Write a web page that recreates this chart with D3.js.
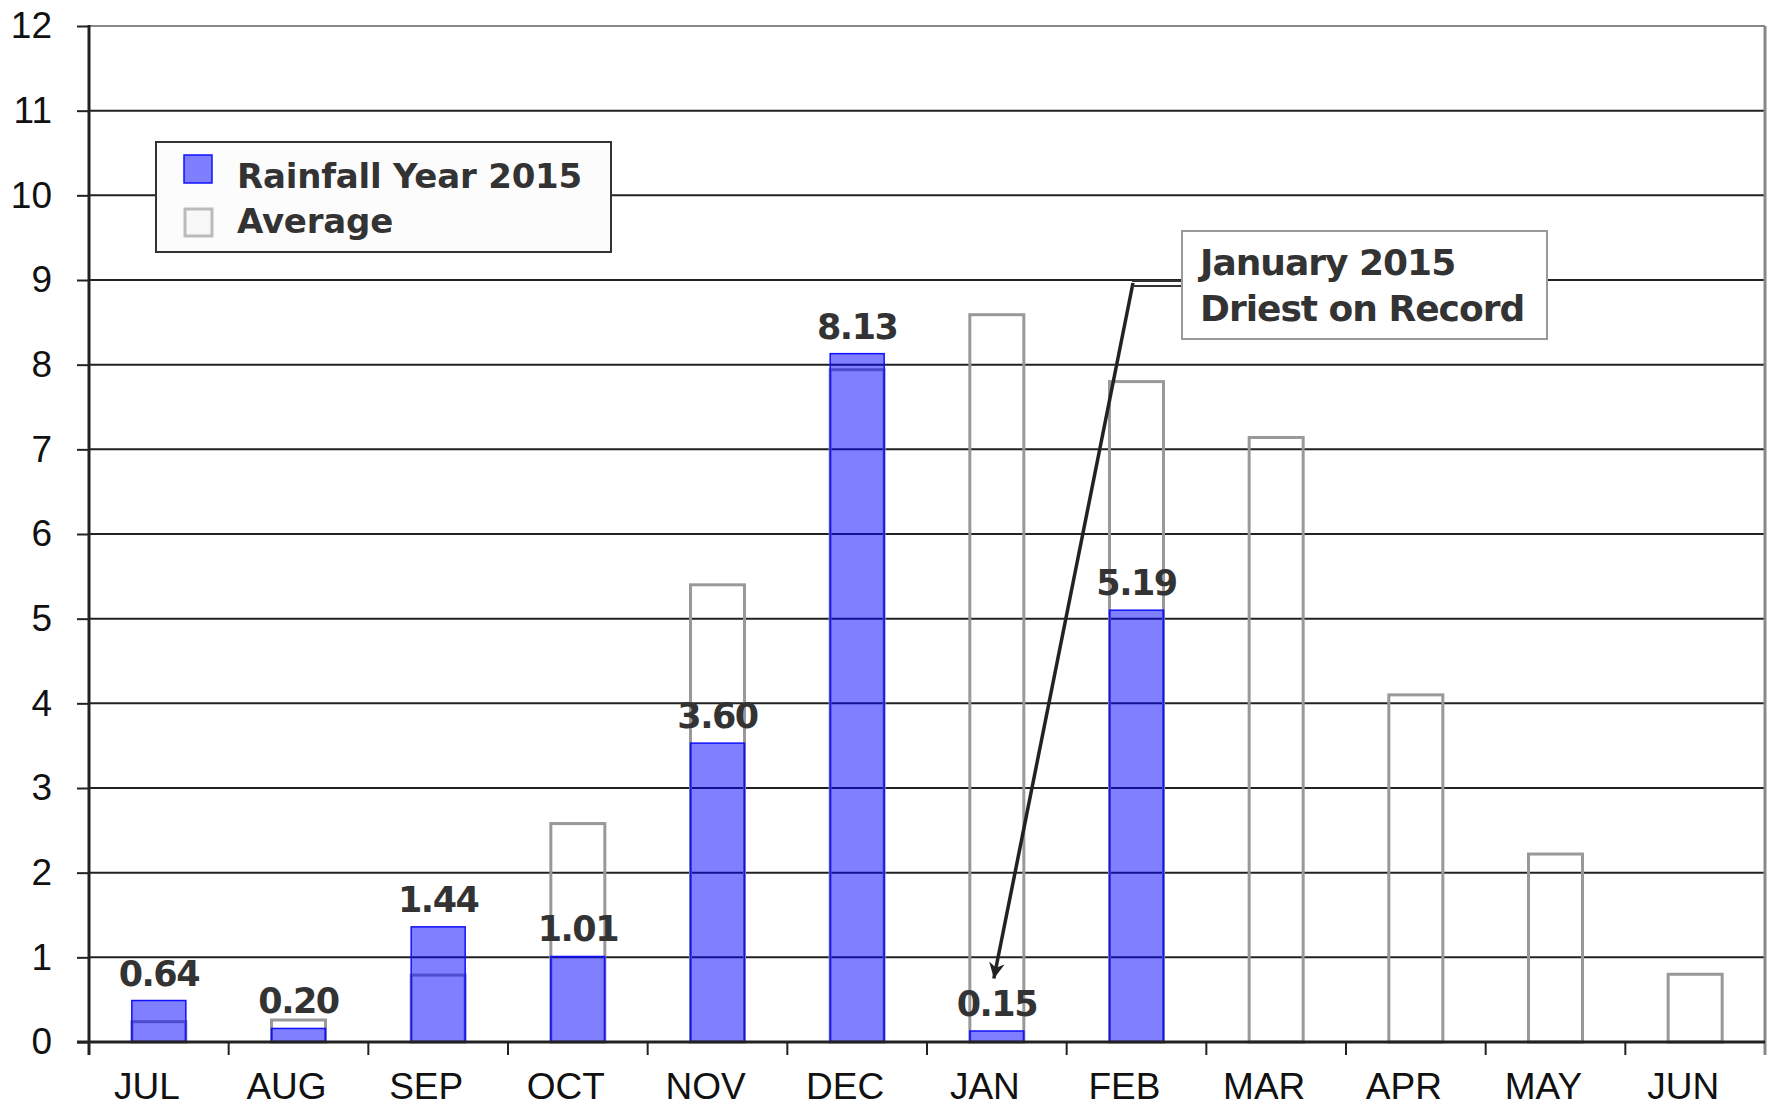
<html>
<meta charset='utf-8'>
<head>
    <script src="https://d3js.org/d3.v7.min.js"></script>
    <style>
      body { margin: 0; background: #fff; }
    </style>
</head>
<body>
<div id='viz'></div>
<script>
    // values
    let months = ['JUL', 'AUG', 'SEP', 'OCT', 'NOV', 'DEC', 'JAN', 'FEB', 'MAR', 'APR', 'MAY', 'JUN'];
    let rainfall = [0.49, 0.16, 1.36, 1.01, 3.53, 8.13, 0.13, 5.10];
    let rainLabels = ['0.64', '0.20', '1.44', '1.01', '3.60', '8.13', '0.15', '5.19'];
    let average = [0.24, 0.26, 0.79, 2.58, 5.40, 7.94, 8.59, 7.80, 7.14, 4.10, 2.22, 0.80];
    let yTicks = [0, 1, 2, 3, 4, 5, 6, 7, 8, 9, 10, 11, 12];
    let legendItems = ['Rainfall Year 2015', 'Average'];
    let noteLines = ['January 2015', 'Driest on Record'];

    function createViz() {
        let svg = d3.select('#viz').append('svg')
                    .attr('width', 1771)
                    .attr('height', 1105);

        let left = 89, right = 1765, top = 26, bottom = 1042;
        let x = d3.scaleBand().domain(months).range([left, right]);
        let y = d3.scaleLinear().domain([0, 12]).range([bottom, top]);
        let barW = 54;
        let boldFont = "'DejaVu Sans', sans-serif";
        let plainFont = "'Liberation Sans', Arial, sans-serif";

        // gridlines
        svg.append('g').selectAll('line')
            .data(yTicks.filter(d => d > 0))
            .join('line')
            .attr('x1', left).attr('x2', right)
            .attr('y1', d => y(d)).attr('y2', d => y(d))
            .attr('stroke', d => d == 12 ? '#888' : '#222')
            .attr('stroke-width', 2);

        // right frame
        svg.append('line')
            .attr('x1', right).attr('x2', right)
            .attr('y1', top).attr('y2', bottom + 13)
            .attr('stroke', '#888').attr('stroke-width', 3);

        // average bars (outline only)
        svg.append('g').selectAll('rect')
            .data(average)
            .join('rect')
            .attr('x', (d, i) => x(months[i]) + x.bandwidth() / 2 - barW / 2)
            .attr('y', d => y(d))
            .attr('width', barW)
            .attr('height', d => bottom - y(d))
            .attr('fill', 'none')
            .attr('stroke', '#999')
            .attr('stroke-width', 3);

        // rainfall bars
        svg.append('g').selectAll('rect')
            .data(rainfall)
            .join('rect')
            .attr('x', (d, i) => x(months[i]) + x.bandwidth() / 2 - barW / 2)
            .attr('y', d => y(d))
            .attr('width', barW)
            .attr('height', d => bottom - y(d))
            .attr('fill', 'rgba(0,0,255,0.5)')
            .attr('stroke', '#1010ff')
            .attr('stroke-width', 1.5);

        // y axis
        let yAxis = svg.append('g')
            .attr('transform', `translate(${left},0)`)
            .call(d3.axisLeft(y).tickValues(yTicks).tickSize(12).tickSizeOuter(0).tickPadding(25));
        yAxis.select('.domain').remove();
        yAxis.selectAll('.tick line').attr('stroke', '#222').attr('stroke-width', 2);
        yAxis.selectAll('.tick text')
            .attr('font-family', plainFont)
            .attr('font-size', 37)
            .attr('fill', '#111');
        svg.append('line')
            .attr('x1', left).attr('x2', left)
            .attr('y1', top - 1).attr('y2', bottom + 13)
            .attr('stroke', '#222').attr('stroke-width', 3);

        // x axis
        svg.append('line')
            .attr('x1', left - 12).attr('x2', right)
            .attr('y1', bottom).attr('y2', bottom)
            .attr('stroke', '#222').attr('stroke-width', 3);
        svg.append('g').selectAll('line')
            .data(months.slice(1))
            .join('line')
            .attr('x1', d => x(d)).attr('x2', d => x(d))
            .attr('y1', bottom).attr('y2', bottom + 13)
            .attr('stroke', '#222').attr('stroke-width', 2);
        let xAxis = svg.append('g')
            .attr('transform', `translate(-12,${bottom})`)
            .call(d3.axisBottom(x).tickSize(0).tickPadding(0));
        xAxis.select('.domain').remove();
        xAxis.selectAll('.tick text')
            .attr('y', 57)
            .attr('dy', 0)
            .attr('font-family', plainFont)
            .attr('font-size', 37)
            .attr('fill', '#111');

        // value labels
        svg.append('g').selectAll('text')
            .data(rainfall)
            .join('text')
            .attr('x', (d, i) => x(months[i]) + x.bandwidth() / 2)
            .attr('y', d => y(d) - 15)
            .attr('text-anchor', 'middle')
            .attr('font-family', boldFont)
            .attr('font-weight', 'bold')
            .attr('font-size', 35)
            .attr('letter-spacing', -1.5)
            .attr('fill', '#333')
            .text((d, i) => rainLabels[i]);

        // legend
        let legend = svg.append('g');
        legend.append('rect')
            .attr('x', 156).attr('y', 142)
            .attr('width', 455).attr('height', 110)
            .attr('fill', '#fcfcfc')
            .attr('stroke', '#333').attr('stroke-width', 2);
        legend.append('rect')
            .attr('x', 184).attr('y', 155).attr('width', 28).attr('height', 28)
            .attr('fill', 'rgba(0,0,255,0.5)').attr('stroke', '#1010ff').attr('stroke-width', 1.5);
        legend.append('rect')
            .attr('x', 185).attr('y', 209).attr('width', 27).attr('height', 27)
            .attr('fill', '#f8f8f8').attr('stroke', '#bbb').attr('stroke-width', 3);
        legend.selectAll('text')
            .data(legendItems)
            .join('text')
            .attr('x', 237)
            .attr('y', (d, i) => 188 + i * 45)
            .attr('font-family', boldFont)
            .attr('font-weight', 'bold')
            .attr('font-size', 34)
            .attr('letter-spacing', -0.2)
            .attr('fill', '#333')
            .text(d => d);

        // annotation
        svg.append('defs').append('marker')
            .attr('id', 'arrow')
            .attr('viewBox', '0 0 10 10')
            .attr('refX', 10).attr('refY', 5)
            .attr('markerWidth', 7).attr('markerHeight', 4.5)
            .attr('markerUnits', 'strokeWidth')
            .attr('orient', 'auto')
            .append('path')
            .attr('d', 'M0,0 L10,5 L0,10 L3,5 Z')
            .attr('fill', '#222');

        let tipX = x('JAN') + x.bandwidth() / 2 - 3;
        let tipY = y(0.75);
        svg.append('line')
            .attr('x1', 1133).attr('y1', 283)
            .attr('x2', tipX).attr('y2', tipY)
            .attr('stroke', '#222').attr('stroke-width', 3.5)
            .attr('marker-end', 'url(#arrow)');
        svg.append('line')
            .attr('x1', 1132).attr('x2', 1182).attr('y1', 281).attr('y2', 281)
            .attr('stroke', '#333').attr('stroke-width', 2);
        svg.append('line')
            .attr('x1', 1132).attr('x2', 1182).attr('y1', 286).attr('y2', 286)
            .attr('stroke', '#333').attr('stroke-width', 2);

        svg.append('rect')
            .attr('x', 1182).attr('y', 231)
            .attr('width', 365).attr('height', 108)
            .attr('fill', '#fff')
            .attr('stroke', '#999').attr('stroke-width', 2);
        svg.append('g').selectAll('text')
            .data(noteLines)
            .join('text')
            .attr('x', 1200)
            .attr('y', (d, i) => 275 + i * 46)
            .attr('font-family', boldFont)
            .attr('font-weight', 'bold')
            .attr('font-size', 36)
            .attr('letter-spacing', -1)
            .attr('fill', '#333')
            .text(d => d);
    }

    createViz();
</script>
</body>
</html>
